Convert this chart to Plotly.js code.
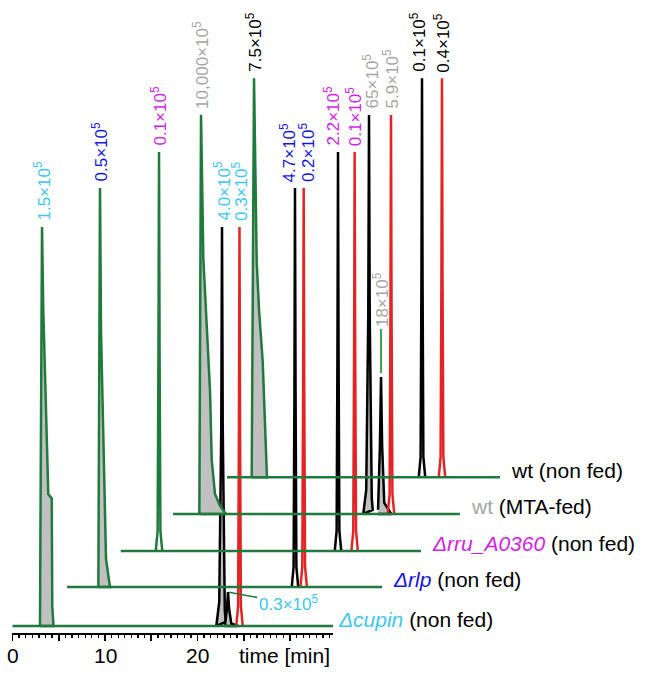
<!DOCTYPE html>
<html>
<head>
<meta charset="utf-8">
<script src="https://cdn.plot.ly/plotly-3.0.1.min.js"></script>
<style>
  html, body { margin: 0; padding: 0; background: #fff; }
  #plot { width: 651px; height: 676px; }
</style>
</head>
<body>
<div id="plot"></div>
<script>
// chromatogram rows (bottom to top)
const rowName = ['Δcupin', 'Δrlp', 'Δrru_A0360', 'wt', 'wt']
const rowCondition = ['(non fed)', '(non fed)', '(non fed)', '(MTA-fed)', '(non fed)']
const rowShiftMin = [0, 5.9, 11.7, 17.35, 23.2]      // time offset of each row [min]
const rowShiftInt = [0, 9.8, 18.8, 28.1, 37.3]       // intensity offset of each row [% of max]
const rowEndMin = [34.65, 34.05, 32.46, 31.03, 29.5] // last recorded time of each row [min]

// time axis
const majorTicks = [0, 5, 10, 15, 20, 25, 30]
const labelledTicks = [0, 10, 20]

// peaks: row index, channel, retention time [min], normalised height, peak shape, area tag (x10^5)
const peakRow = [0, 0, 0, 0, 1, 1, 1, 2, 2, 2, 3, 3, 3, 3, 4, 4, 4]
const peakChannel = ['g', 'k', 'k', 'r', 'g', 'k', 'r', 'g', 'k', 'r', 'g', 'k', 'k', 'r', 'g', 'k', 'r']
const peakTime = [3.19, 22.65, 23.30, 24.54, 3.56, 24.64, 25.58, 4.14, 23.49, 25.29, 3.03, 21.19, 22.49, 23.57, 2.91, 21.07, 23.23]
const peakHeight = [100, 100, 8.5, 100, 100, 100, 100, 100, 100, 100, 100, 100, 34.3, 100, 100, 100, 100]
const peakShape = ['tailCupin', 'spikeWide', 'minor', 'spike', 'tailRlp', 'spike', 'spike', 'spike', 'spike', 'spike',
                   'tailMta', 'spikeWide', 'minor', 'spike', 'tailWt', 'spike', 'spike']
const peakTag = ['1.5', '4.0', '0.3', '0.3', '0.5', '4.7', '0.2', '0.1', '2.2', '0.1',
                 '10,000', '65', '18', '5.9', '7.5', '0.1', '0.4']

// peak outlines: time from apex [min], fraction of apex height
const profiles = {
  spike:     { dt: [-0.35, -0.15, -0.06, 0, 0.06, 0.15, 0.35], rel: [0, 0.05, 0.5, 1, 0.5, 0.05, 0] },
  spikeWide: { dt: [-0.62, -0.3, -0.08, 0, 0.08, 0.3, 0.4], rel: [0, 0.06, 0.5, 1, 0.5, 0.04, 0.01] },
  minor:     { dt: [-0.32, -0.12, 0, 0.12, 0.35, 1.1], rel: [0.03, 0.5, 1, 0.5, 0.08, 0] },
  tailCupin: { dt: [-0.22, -0.13, 0, 0.14, 0.32, 0.68, 1.05, 1.11, 1.24], rel: [0, 0.5, 1, 0.79, 0.61, 0.33, 0.32, 0.05, 0] },
  tailRlp:   { dt: [-0.18, -0.09, 0, 0.11, 0.43, 0.46, 0.65, 1.08], rel: [0, 0.5, 1, 0.64, 0.33, 0.3, 0.07, 0] },
  tailMta:   { dt: [-0.18, -0.11, 0, 0.25, 0.97, 1.16, 1.51, 2.05, 2.7], rel: [0, 0.5, 1, 0.64, 0.31, 0.135, 0.05, 0.02, 0] },
  tailWt:    { dt: [-0.25, -0.11, 0, 0.29, 0.54, 0.94, 1.3, 1.4], rel: [0, 0.5, 1, 0.54, 0.42, 0.29, 0.04, 0] }
}

// styles
const channelColor = { g: '#1f7a3c', k: '#000000', r: '#e32424' }
const rowColor = ['#3ec6f2', '#1414e6', '#d21ee6', '#a6a6a6', '#000000']
const rowItalic = [true, true, true, false, false]
const filledShapes = ['tailCupin', 'tailRlp', 'tailMta', 'tailWt', 'spikeWide', 'minor']
const labelNudgePx = { 5: -7, 6: 4, 8: -6, 11: 2, 15: -4 } // keep neighbouring peak labels apart
const FONT = 'Liberation Sans, Arial, Helvetica, sans-serif'

function draw() {
  var data = []
  var annotations = []

  // peaks
  for (var i = 0; i < peakTime.length; i++) {
    var r = peakRow[i]
    var prof = profiles[peakShape[i]]
    var x0 = rowShiftMin[r] + peakTime[i]
    var y0 = rowShiftInt[r]
    var xs = prof.dt.map(function (d) { return x0 + d })
    var ys = prof.rel.map(function (f) { return y0 + f * peakHeight[i] })
    var filled = filledShapes.indexOf(peakShape[i]) >= 0
    if (filled) {
      xs.push(xs[0])
      ys.push(y0)
    }
    data.push({
      x: xs, y: ys, xaxis: 'x2', yaxis: 'y',
      mode: 'lines', type: 'scatter',
      line: { color: channelColor[peakChannel[i]], width: 2.5 },
      fill: filled ? 'toself' : 'none',
      fillcolor: '#c0c0c0',
      hoverinfo: 'skip', showlegend: false
    })

    var text = peakTag[i] + '×10<sup>5</sup>'
    var top = y0 + peakHeight[i]
    if (peakShape[i] === 'minor' && r === 0) {
      annotations.push({
        xref: 'x2', yref: 'y', x: x0, y: top, text: text,
        showarrow: true, arrowhead: 0, arrowwidth: 1.6, arrowcolor: channelColor.g,
        ax: 60, ay: 11, standoff: 1,
        font: { family: FONT, size: 17, color: rowColor[r] }
      })
    } else if (peakShape[i] === 'minor') {
      annotations.push({
        xref: 'x2', yref: 'y', x: x0, y: top, text: text, textangle: -90,
        showarrow: true, arrowhead: 0, arrowwidth: 2, arrowcolor: '#3aa64a',
        ax: 0, ay: -77, standoff: 4,
        font: { family: FONT, size: 17, color: rowColor[r] }
      })
    } else {
      annotations.push({
        xref: 'x2', yref: 'y', x: x0, y: top, text: text, textangle: -90,
        showarrow: false, xanchor: 'center', yanchor: 'bottom', yshift: 4,
        xshift: labelNudgePx[i] || 0,
        font: { family: FONT, size: 17, color: rowColor[r] }
      })
    }
  }

  // baselines on top
  for (var k = 0; k < rowName.length; k++) {
    data.push({
      x: [rowShiftMin[k], rowShiftMin[k] + rowEndMin[k]],
      y: [rowShiftInt[k], rowShiftInt[k]],
      xaxis: 'x2', yaxis: 'y', mode: 'lines', type: 'scatter',
      line: { color: channelColor.g, width: 2.5 },
      hoverinfo: 'skip', showlegend: false
    })
    var name = rowItalic[k] ? '<i>' + rowName[k] + '</i>' : rowName[k]
    annotations.push({
      xref: 'x2', yref: 'y', x: rowShiftMin[k] + rowEndMin[k], y: rowShiftInt[k],
      text: '<span style="color:' + rowColor[k] + '">' + name + '</span> ' + rowCondition[k],
      showarrow: false, xanchor: 'left', yanchor: 'middle', xshift: k === 0 ? 3 : 9, yshift: 7,
      font: { family: FONT, size: 21, color: '#000' }
    })
  }

  var pxPerMin = 9.25, x0px = 12.5, W = 651, H = 676
  var labelY = (H - 655) / H

  // tick numbers sit a little closer to the axis than plotly's own labels
  labelledTicks.forEach(function (t) {
    annotations.push({
      xref: 'x', yref: 'paper', x: t, y: labelY, text: String(t),
      showarrow: false, xanchor: 'center', yanchor: 'middle',
      font: { family: FONT, size: 21, color: '#000' }
    })
  })
  annotations.push({
    xref: 'x', yref: 'paper', x: 24.3, y: labelY, text: 'time [min]',
    showarrow: false, xanchor: 'left', yanchor: 'middle',
    font: { family: FONT, size: 21, color: '#000' }
  })

  var layout = {
    width: W, height: H,
    margin: { l: 0, r: 0, t: 0, b: 0, pad: 0 },
    paper_bgcolor: '#fff', plot_bgcolor: 'rgba(0,0,0,0)',
    showlegend: false,
    xaxis: {
      domain: [12 / W, 333 / W],
      range: [(12 - x0px) / pxPerMin, (333 - x0px) / pxPerMin],
      anchor: 'free', position: (H - 633) / H,
      showline: true, linecolor: '#000', linewidth: 1.6,
      showgrid: false, zeroline: false,
      tickmode: 'array',
      tickvals: majorTicks,
      ticktext: majorTicks.map(function () { return '' }),
      ticks: 'outside', ticklen: 6, tickwidth: 1.6, tickcolor: '#000',
      minor: { tickmode: 'linear', tick0: 0, dtick: 5 / 7, ticks: 'outside', ticklen: 3.5, tickwidth: 1.3, tickcolor: '#000', showgrid: false },
      tickfont: { family: FONT, size: 21, color: '#000' },
      fixedrange: true
    },
    xaxis2: {
      domain: [0, 1], anchor: 'y',
      range: [-x0px / pxPerMin, (W - x0px) / pxPerMin],
      visible: false, fixedrange: true
    },
    yaxis: {
      domain: [0, 1], anchor: 'x2',
      range: [-(H - 626) / 3.99, 626 / 3.99],
      visible: false, fixedrange: true
    },
    annotations: annotations
  }

  Plotly.newPlot('plot', data, layout, { displayModeBar: false, staticPlot: true })
}

try {
  draw()
} catch (err) {
  console.log(err)
}
</script>
</body>
</html>
